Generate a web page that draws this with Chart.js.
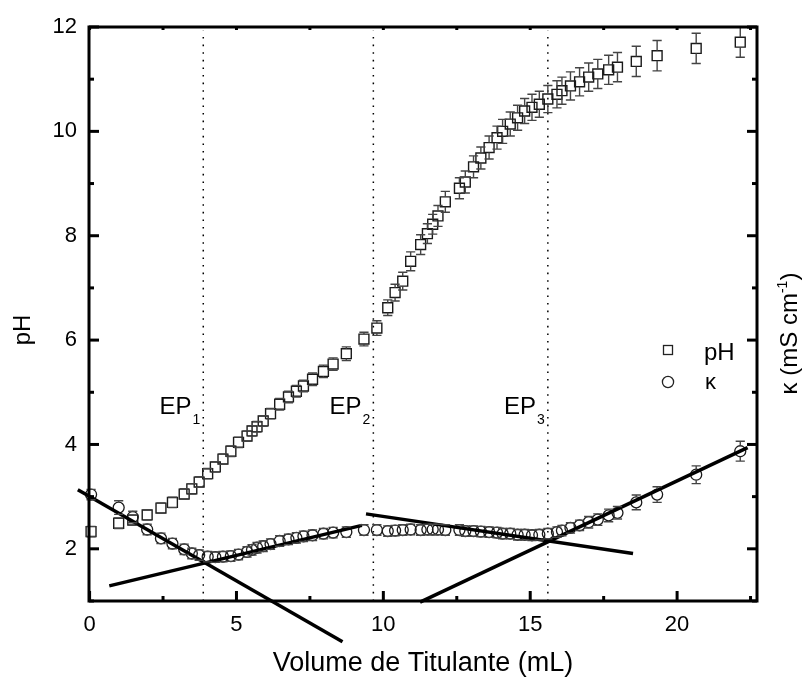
<!DOCTYPE html>
<html>
<head>
<meta charset="utf-8">
<script src="https://cdn.jsdelivr.net/npm/chart.js@4/dist/chart.umd.min.js"></script>
<style>html,body{margin:0;padding:0;background:#fff;}canvas{display:block;}</style>
</head>
<body>
<canvas id="c" width="807" height="682"></canvas>
<script>
// ---- data ----
const volume = [0.05,0.99,1.47,1.96,2.43,2.82,3.22,3.48,3.73,4.02,
  4.28,4.54,4.81,5.07,5.36,5.53,5.70,5.91,6.16,6.47,
  6.77,7.04,7.28,7.59,7.96,8.29,8.74,9.34,9.78,10.15,
  10.40,10.66,10.93,11.27,11.50,11.68,11.86,12.11,12.59,12.79,
  13.07,13.32,13.60,13.87,14.06,14.32,14.57,14.81,15.06,15.31,
  15.60,15.91,16.08,16.37,16.68,16.99,17.30,17.67,17.97,18.61,
  19.32,20.65,22.15];
const pHValues = [2.33,2.49,2.55,2.65,2.78,2.89,3.05,3.15,3.28,3.44,
  3.57,3.72,3.87,4.04,4.16,4.26,4.34,4.45,4.59,4.77,
  4.91,5.02,5.12,5.25,5.40,5.54,5.74,6.02,6.23,6.62,
  6.91,7.13,7.51,7.83,8.04,8.22,8.38,8.65,8.91,9.03,
  9.32,9.49,9.69,9.88,10.00,10.14,10.26,10.39,10.46,10.52,
  10.62,10.71,10.78,10.87,10.95,11.04,11.10,11.18,11.23,11.34,
  11.45,11.59,11.71];
const pHErrors = [0.10,0.10,0.10,0.10,0.10,0.10,0.10,0.10,0.10,0.10,
  0.10,0.10,0.10,0.10,0.10,0.10,0.10,0.10,0.10,0.11,
  0.11,0.11,0.11,0.12,0.12,0.12,0.13,0.13,0.14,0.15,
  0.16,0.17,0.18,0.19,0.19,0.19,0.20,0.20,0.20,0.21,
  0.21,0.21,0.22,0.22,0.23,0.23,0.24,0.24,0.25,0.25,
  0.26,0.26,0.26,0.27,0.27,0.27,0.28,0.28,0.28,0.29,
  0.29,0.29,0.29];
const kappaValues = [3.04,2.79,2.61,2.37,2.20,2.10,1.99,1.91,1.88,1.85,
  1.84,1.85,1.86,1.89,1.94,1.98,2.02,2.05,2.09,2.15,
  2.18,2.21,2.24,2.26,2.29,2.31,2.32,2.36,2.36,2.34,
  2.35,2.36,2.37,2.36,2.37,2.37,2.37,2.36,2.36,2.34,
  2.34,2.33,2.32,2.31,2.29,2.29,2.27,2.27,2.26,2.27,
  2.29,2.32,2.35,2.40,2.45,2.51,2.56,2.64,2.69,2.89,
  3.04,3.42,3.87];
const kappaErrors = [0.10,0.13,0.11,0.10,0.10,0.10,0.10,0.10,0.10,0.10,
  0.10,0.10,0.10,0.10,0.10,0.10,0.10,0.10,0.10,0.10,
  0.10,0.10,0.10,0.10,0.10,0.10,0.10,0.10,0.10,0.10,
  0.10,0.10,0.10,0.10,0.10,0.10,0.10,0.10,0.10,0.10,
  0.10,0.10,0.10,0.10,0.10,0.10,0.10,0.10,0.10,0.10,
  0.10,0.10,0.10,0.10,0.10,0.11,0.11,0.12,0.12,0.14,
  0.15,0.17,0.19];
// linear fits (end points of each segment)
const fitLine1X = [-0.40, 8.61], fitLine1Y = [3.13, 0.22];
const fitLine2X = [0.67, 9.27],  fitLine2Y = [1.29, 2.45];
const fitLine3X = [9.41, 18.50], fitLine3Y = [2.67, 1.91];
const fitLine4X = [11.25, 22.40], fitLine4Y = [0.98, 3.94];
// equivalence points
const endPoints = [3.87, 9.66, 15.60];
const endPointSubs = ['1', '2', '3'];
const endPointLabelY = 4.58;
const epLineY = [1, 11.93];
// axes
const xTickLabels = [0, 5, 10, 15, 20];
const yTickLabels = [2, 4, 6, 8, 10, 12];
const xRange = [-0.02, 22.72];
const yRange = [1, 12];

const FONT = '"Liberation Sans", Arial, Helvetica, sans-serif';
const pts = (xs, ys) => xs.map((x, i) => ({x: x, y: ys[i]}));

const errorBarPlugin = {
  id: 'errorBars',
  afterDatasetsDraw(chart) {
    const ctx = chart.ctx, ys = chart.scales.y;
    chart.data.datasets.forEach((ds, di) => {
      if (!ds.errors) return;
      const meta = chart.getDatasetMeta(di);
      const half = ds.pointStyle === 'rect' ? ds.pointRadius * Math.SQRT1_2 : ds.pointRadius;
      const cap = 4.6;
      ctx.save();
      ctx.strokeStyle = ds.errorColor;
      ctx.lineWidth = 1.4;
      meta.data.forEach((pt, i) => {
        const v = ds.data[i].y, e = ds.errors[i];
        const yt = ys.getPixelForValue(v + e), yb = ys.getPixelForValue(v - e);
        const x = pt.x, y = pt.y;
        ctx.beginPath();
        if (y - yt > half) {
          ctx.moveTo(x, yt); ctx.lineTo(x, y - half);
          ctx.moveTo(x, y + half); ctx.lineTo(x, yb);
        }
        ctx.moveTo(x - cap, yt); ctx.lineTo(x + cap, yt);
        ctx.moveTo(x - cap, yb); ctx.lineTo(x + cap, yb);
        ctx.stroke();
      });
      ctx.restore();
    });
  }
};

const framePlugin = {
  id: 'frameTicks',
  afterDraw(chart) {
    const {ctx, chartArea: ca, scales} = chart;
    ctx.save();
    ctx.strokeStyle = '#000';
    ctx.lineWidth = 3;
    ctx.strokeRect(ca.left, ca.top, ca.right - ca.left, ca.bottom - ca.top);
    const seg = (x1, y1, x2, y2) => { ctx.beginPath(); ctx.moveTo(x1, y1); ctx.lineTo(x2, y2); ctx.stroke(); };
    scales.x.ticks.forEach(t => {
      const p = scales.x.getPixelForValue(t.value);
      const len = xTickLabels.includes(t.value) ? 10 : 5;
      seg(p, ca.bottom, p, ca.bottom - len);
    });
    scales.xTop.ticks.forEach(t => {
      const p = scales.xTop.getPixelForValue(t.value);
      seg(p, ca.top, p, ca.top + 3);
    });
    scales.y.ticks.forEach(t => {
      const p = scales.y.getPixelForValue(t.value);
      const len = yTickLabels.includes(t.value) ? 10 : 5;
      seg(ca.left, p, ca.left + len, p);
    });
    scales.yRight.ticks.forEach(t => {
      const p = scales.yRight.getPixelForValue(t.value);
      const len = yTickLabels.includes(t.value) ? 10 : 5;
      seg(ca.right, p, ca.right - len, p);
    });
    ctx.restore();
  }
};

const textPlugin = {
  id: 'texts',
  afterDraw(chart) {
    const {ctx, scales} = chart;
    ctx.save();
    ctx.fillStyle = '#000';
    ctx.textBaseline = 'alphabetic';
    // EP labels
    endPoints.forEach((ep, i) => {
      const px = scales.x.getPixelForValue(ep) - 3;
      const py = scales.y.getPixelForValue(endPointLabelY);
      ctx.font = '14px ' + FONT;
      ctx.textAlign = 'right';
      ctx.fillText(endPointSubs[i], px, py + 10);
      const w = ctx.measureText(endPointSubs[i]).width;
      ctx.font = '24px ' + FONT;
      ctx.fillText('EP', px - w - 1, py);
    });
    // legend
    ctx.strokeStyle = '#222';
    ctx.lineWidth = 1.3;
    ctx.strokeRect(663.5, 345.5, 9, 9);
    ctx.beginPath(); ctx.arc(668, 382, 5.6, 0, Math.PI * 2); ctx.stroke();
    ctx.textAlign = 'left';
    ctx.font = '24px ' + FONT;
    ctx.fillText('pH', 704, 360);
    ctx.font = '22px ' + FONT;
    ctx.fillText('κ', 705, 389);
    // left title
    ctx.save();
    ctx.translate(30, 330);
    ctx.rotate(-Math.PI / 2);
    ctx.font = '24px ' + FONT;
    ctx.textAlign = 'center';
    ctx.fillText('pH', 0, 0);
    ctx.restore();
    // right title
    ctx.save();
    ctx.translate(797, 333.5);
    ctx.rotate(-Math.PI / 2);
    ctx.textAlign = 'left';
    const a = 'κ (mS cm', sup = '-1', b = ')';
    ctx.font = '24px ' + FONT; const wa = ctx.measureText(a).width, wb = ctx.measureText(b).width;
    ctx.font = '14px ' + FONT; const ws = ctx.measureText(sup).width;
    let x0 = -(wa + ws + wb) / 2;
    ctx.font = '24px ' + FONT; ctx.fillText(a, x0, 0);
    ctx.font = '14px ' + FONT; ctx.fillText(sup, x0 + wa, -10);
    ctx.font = '24px ' + FONT; ctx.fillText(b, x0 + wa + ws, 0);
    ctx.restore();
    ctx.restore();
  }
};

const lineDs = (xs, ys) => ({type: 'line', data: pts(xs, ys), borderColor: '#000', borderWidth: 3.5,
  pointRadius: 0, clip: false, showLine: true, fill: false, tension: 0});
const epDs = ep => ({type: 'line', data: pts([ep, ep], epLineY), borderColor: '#000', borderWidth: 1.5,
  borderDash: [1.6, 6], pointRadius: 0, clip: false, showLine: true, fill: false});

new Chart(document.getElementById('c'), {
  type: 'scatter',
  data: {
    datasets: [
      lineDs(fitLine1X, fitLine1Y), lineDs(fitLine2X, fitLine2Y),
      lineDs(fitLine3X, fitLine3Y), lineDs(fitLine4X, fitLine4Y),
      {label: 'pH', data: pts(volume, pHValues), errors: pHErrors, errorColor: '#444',
        pointStyle: 'rect', pointRadius: 7, borderColor: '#1a1a1a', borderWidth: 1.4,
        backgroundColor: 'rgba(0,0,0,0)', clip: false},
      {label: 'κ', data: pts(volume, kappaValues), errors: kappaErrors, errorColor: '#444',
        pointStyle: 'circle', pointRadius: 5.5, borderColor: '#1a1a1a', borderWidth: 1.3,
        backgroundColor: 'rgba(0,0,0,0)', clip: false},
      ...endPoints.map(epDs)
    ]
  },
  options: {
    responsive: false, animation: false, devicePixelRatio: 1, events: [],
    layout: {padding: 0},
    plugins: {legend: {display: false}, tooltip: {enabled: false}},
    scales: {
      x: {type: 'linear', position: 'bottom', min: xRange[0], max: xRange[1],
        afterFit: s => { s.height = 81; },
        grid: {display: false, drawTicks: false}, border: {display: false},
        ticks: {stepSize: 2.5, includeBounds: false, autoSkip: false, maxRotation: 0, padding: 11,
          color: '#000', font: {family: FONT, size: 22},
          callback: v => xTickLabels.includes(v) ? String(v) : ''},
        title: {display: true, text: 'Volume de Titulante (mL)', color: '#000',
          font: {family: FONT, size: 27}, padding: {top: 0, bottom: 2}}},
      xTop: {type: 'linear', position: 'top', min: xRange[0], max: xRange[1],
        afterFit: s => { s.height = 27; },
        grid: {display: false, drawTicks: false}, border: {display: false},
        ticks: {stepSize: 2.5, includeBounds: false, display: false}},
      y: {type: 'linear', position: 'left', min: yRange[0], max: yRange[1],
        afterFit: s => { s.width = 89; },
        grid: {display: false, drawTicks: false}, border: {display: false},
        ticks: {stepSize: 1, includeBounds: false, autoSkip: false, padding: 12, color: '#000',
          font: {family: FONT, size: 22},
          callback: v => yTickLabels.includes(v) ? String(v) : ''}},
      yRight: {type: 'linear', position: 'right', min: yRange[0], max: yRange[1],
        afterFit: s => { s.width = 50; },
        grid: {display: false, drawTicks: false}, border: {display: false},
        ticks: {stepSize: 1, includeBounds: false, display: false}}
    }
  },
  plugins: [errorBarPlugin, framePlugin, textPlugin]
});
</script>
</body>
</html>
